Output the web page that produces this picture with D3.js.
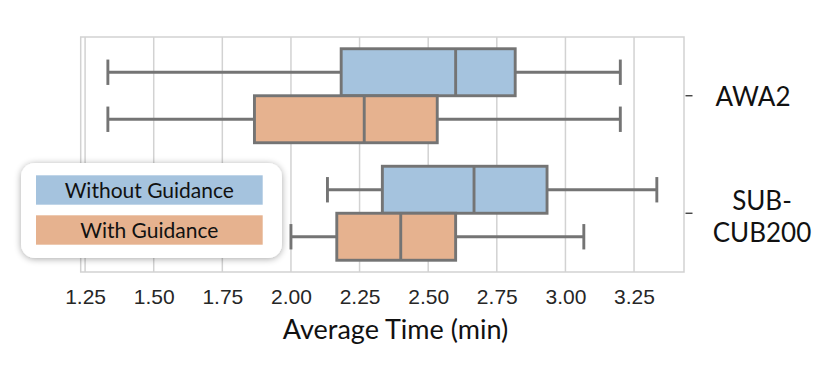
<!DOCTYPE html>
<html><head><meta charset="utf-8">
<script src="https://cdn.jsdelivr.net/npm/d3@7"></script>
<style>body{margin:0;background:#fff;} svg{display:block;}</style>
</head><body>
<svg id="c" width="830" height="369"></svg>
<script>
const categories = ["AWA2", "SUB-CUB200"];
const series = ["Without Guidance", "With Guidance"];
// [whisker low, Q1, median, Q3, whisker high] per category
const withoutGuidance = [[1.333, 2.183, 2.6, 2.817, 3.2], [2.133, 2.333, 2.667, 2.933, 3.333]];
const withGuidance = [[1.333, 1.867, 2.267, 2.533, 3.2], [2.0, 2.167, 2.4, 2.6, 3.067]];
const xTicks = [1.25, 1.5, 1.75, 2.0, 2.25, 2.5, 2.75, 3.0, 3.25];
const colors = ["#a5c3de", "#e6b28f"];
const xLabel = "Average Time (min)";

(function () {
const svg = d3.select("#c");
const pL = 80.7, pR = 684, pT = 37, pB = 272;
const x = d3.scaleLinear().domain([1.234, 3.432]).range([pL, pR]);
const y = d3.scaleBand().domain(categories).range([pT, pB]).padding(0);
const hue = d3.scaleBand().domain(series).range([0, y.bandwidth() * 0.8]);
const off = y.bandwidth() * 0.1;

const grid = "#d2d2d2", lineC = "#747474", sw = 2.9;

// gridlines
svg.append("g").selectAll("line").data(xTicks).join("line")
  .attr("x1", d => x(d)).attr("x2", d => x(d)).attr("y1", pT).attr("y2", pB)
  .attr("stroke", grid).attr("stroke-width", 1.5);
// frame
svg.append("rect").attr("x", pL).attr("y", pT).attr("width", pR - pL).attr("height", pB - pT)
  .attr("fill", "none").attr("stroke", grid).attr("stroke-width", 1.5);

// x axis labels
const xa = svg.append("g").attr("transform", `translate(0,${pB})`)
  .call(d3.axisBottom(x).tickValues(xTicks).tickFormat(d3.format(".2f")).tickSize(0).tickPadding(0));
xa.select(".domain").remove();
xa.selectAll("text").attr("dy", null).attr("y", 31.5)
  .attr("font-family", "'Liberation Sans', Arial, sans-serif").attr("font-size", 21).attr("fill", "#262626");

// right axis ticks + labels
const ya = svg.append("g").attr("transform", `translate(${pR},0)`)
  .call(d3.axisRight(y).tickSize(7).tickFormat(""));
ya.select(".domain").remove();
ya.selectAll("line").attr("stroke", "#333").attr("stroke-width", 1.3).attr("transform", "translate(1.5,0)");

const catLabelX = [753, 762];
const catLines = [["AWA2"], ["SUB-", "CUB200"]];
categories.forEach((c, i) => {
  const t = svg.append("text").attr("text-anchor", "middle")
    .attr("font-family", "Lato, sans-serif").attr("font-size", 26).attr("fill", "#111");
  const lines = catLines[i];
  const base = i === 0 ? y(c) + y.bandwidth() / 2 + 10.5 : y(c) + y.bandwidth() / 2 - 3;
  lines.forEach((l, j) => t.append("tspan").attr("x", catLabelX[i]).attr("y", base + j * 31.7).text(l));
});

// boxes
const allData = [withoutGuidance, withGuidance];
series.forEach((s, si) => {
  const g = svg.append("g");
  categories.forEach((c, ci) => {
    const d = allData[si][ci];
    const y0 = y(c) + off + hue(s), h = hue.bandwidth(), cy = y0 + h / 2;
    const cap = h * 0.27;
    g.append("line").attr("x1", x(d[0])).attr("x2", x(d[1])).attr("y1", cy).attr("y2", cy)
      .attr("stroke", lineC).attr("stroke-width", sw);
    g.append("line").attr("x1", x(d[3])).attr("x2", x(d[4])).attr("y1", cy).attr("y2", cy)
      .attr("stroke", lineC).attr("stroke-width", sw);
    [d[0], d[4]].forEach(v => g.append("line").attr("x1", x(v)).attr("x2", x(v))
      .attr("y1", cy - cap).attr("y2", cy + cap).attr("stroke", lineC).attr("stroke-width", sw));
    g.append("rect").attr("x", x(d[1])).attr("y", y0).attr("width", x(d[3]) - x(d[1])).attr("height", h)
      .attr("fill", colors[si]).attr("stroke", lineC).attr("stroke-width", sw);
    g.append("line").attr("x1", x(d[2])).attr("x2", x(d[2])).attr("y1", y0).attr("y2", y0 + h)
      .attr("stroke", lineC).attr("stroke-width", sw);
  });
});

// x label
svg.append("text").attr("x", 395.5).attr("y", 339).attr("text-anchor", "middle")
  .attr("font-family", "Lato, sans-serif").attr("font-size", 27).attr("fill", "#111").text(xLabel);

// legend
const defs = svg.append("defs");
const f = defs.append("filter").attr("id", "sh").attr("x", "-20%").attr("y", "-20%").attr("width", "140%").attr("height", "140%");
f.append("feGaussianBlur").attr("in", "SourceAlpha").attr("stdDeviation", 3.5);
f.append("feOffset").attr("dx", 0).attr("dy", 1).attr("result", "b");
f.append("feComponentTransfer").append("feFuncA").attr("type", "linear").attr("slope", 0.35);
const m = f.append("feMerge"); m.append("feMergeNode"); m.append("feMergeNode").attr("in", "SourceGraphic");

const lg = svg.append("g");
lg.append("rect").attr("x", 21).attr("y", 163).attr("width", 261).attr("height", 95).attr("rx", 14)
  .attr("fill", "#fff").attr("filter", "url(#sh)");
series.forEach((s, i) => {
  const sy = 175.3 + i * 40;
  lg.append("rect").attr("x", 36).attr("y", sy).attr("width", 226.7).attr("height", 29.4).attr("fill", colors[i]);
  lg.append("text").attr("x", 149.3).attr("y", sy + 22.3).attr("text-anchor", "middle")
    .attr("font-family", "Lato, sans-serif").attr("font-size", 21).attr("fill", "#111").text(s);
});
})();
</script>
</body></html>
